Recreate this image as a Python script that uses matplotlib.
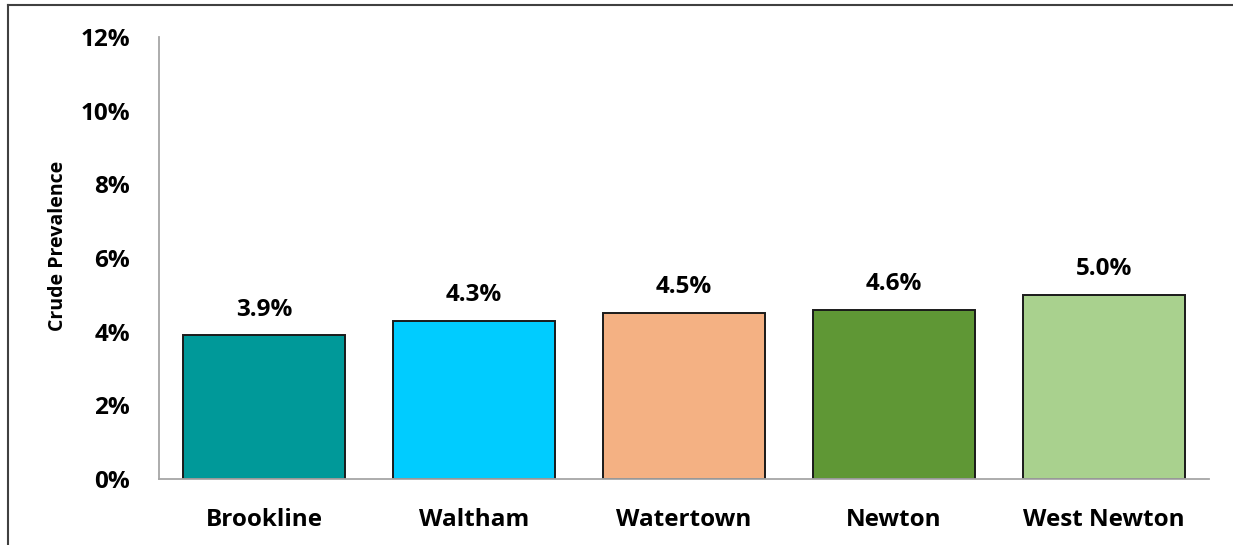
import matplotlib.pyplot as plt
from matplotlib.lines import Line2D

# Data
towns = ['Brookline', 'Waltham', 'Watertown', 'Newton', 'West Newton']
prevalence = [3.9, 4.3, 4.5, 4.6, 5.0]
colors = ['#009999', '#00CCFF', '#F4B183', '#5F9735', '#A9D18E']
y_ticks = [0, 2, 4, 6, 8, 10, 12]

plt.rcParams['font.family'] = ['Open Sans', 'DejaVu Sans']
plt.rcParams['font.weight'] = 'bold'

fig = plt.figure(figsize=(12.33, 5.45), dpi=100)
ax = fig.add_axes([0.129, 0.121, 0.8515, 0.811])

x = range(len(towns))
bars = ax.bar(x, prevalence, width=0.77, color=colors, edgecolor='#1a1a1a', linewidth=1.4)

for rect, v in zip(bars, prevalence):
    ax.annotate(f'{v:.1f}%', (rect.get_x() + rect.get_width() / 2, v),
                xytext=(0, 10), textcoords='offset points',
                ha='center', va='bottom', fontsize=17.5, fontweight='bold')

ax.set_xlim(-0.5, len(towns) - 0.5)
ax.set_ylim(0, 12)
ax.set_yticks(y_ticks)
ax.set_yticklabels([f'{t}%' for t in y_ticks], fontsize=17.5, fontweight='bold')
ax.set_xticks(list(x))
ax.set_xticklabels(towns, fontsize=17.5, fontweight='bold')
ax.tick_params(length=0)
ax.tick_params(axis='y', pad=21)
ax.tick_params(axis='x', pad=21)
ax.set_ylabel('Crude Prevalence', fontsize=14, fontweight='bold', labelpad=9)
ax.yaxis.label.set_y(0.527)

for s in ['top', 'right']:
    ax.spines[s].set_visible(False)
for s in ['left', 'bottom']:
    ax.spines[s].set_color('#A6A6A6')
    ax.spines[s].set_linewidth(1.3)

# outer frame (left and top edges)
fig.add_artist(Line2D([0.0065, 0.0065], [0.0, 0.991], transform=fig.transFigure,
                      color='#404040', linewidth=1.5))
fig.add_artist(Line2D([0.0065, 1.0], [0.991, 0.991], transform=fig.transFigure,
                      color='#404040', linewidth=1.5))

fig.savefig('out.png', dpi=100)
